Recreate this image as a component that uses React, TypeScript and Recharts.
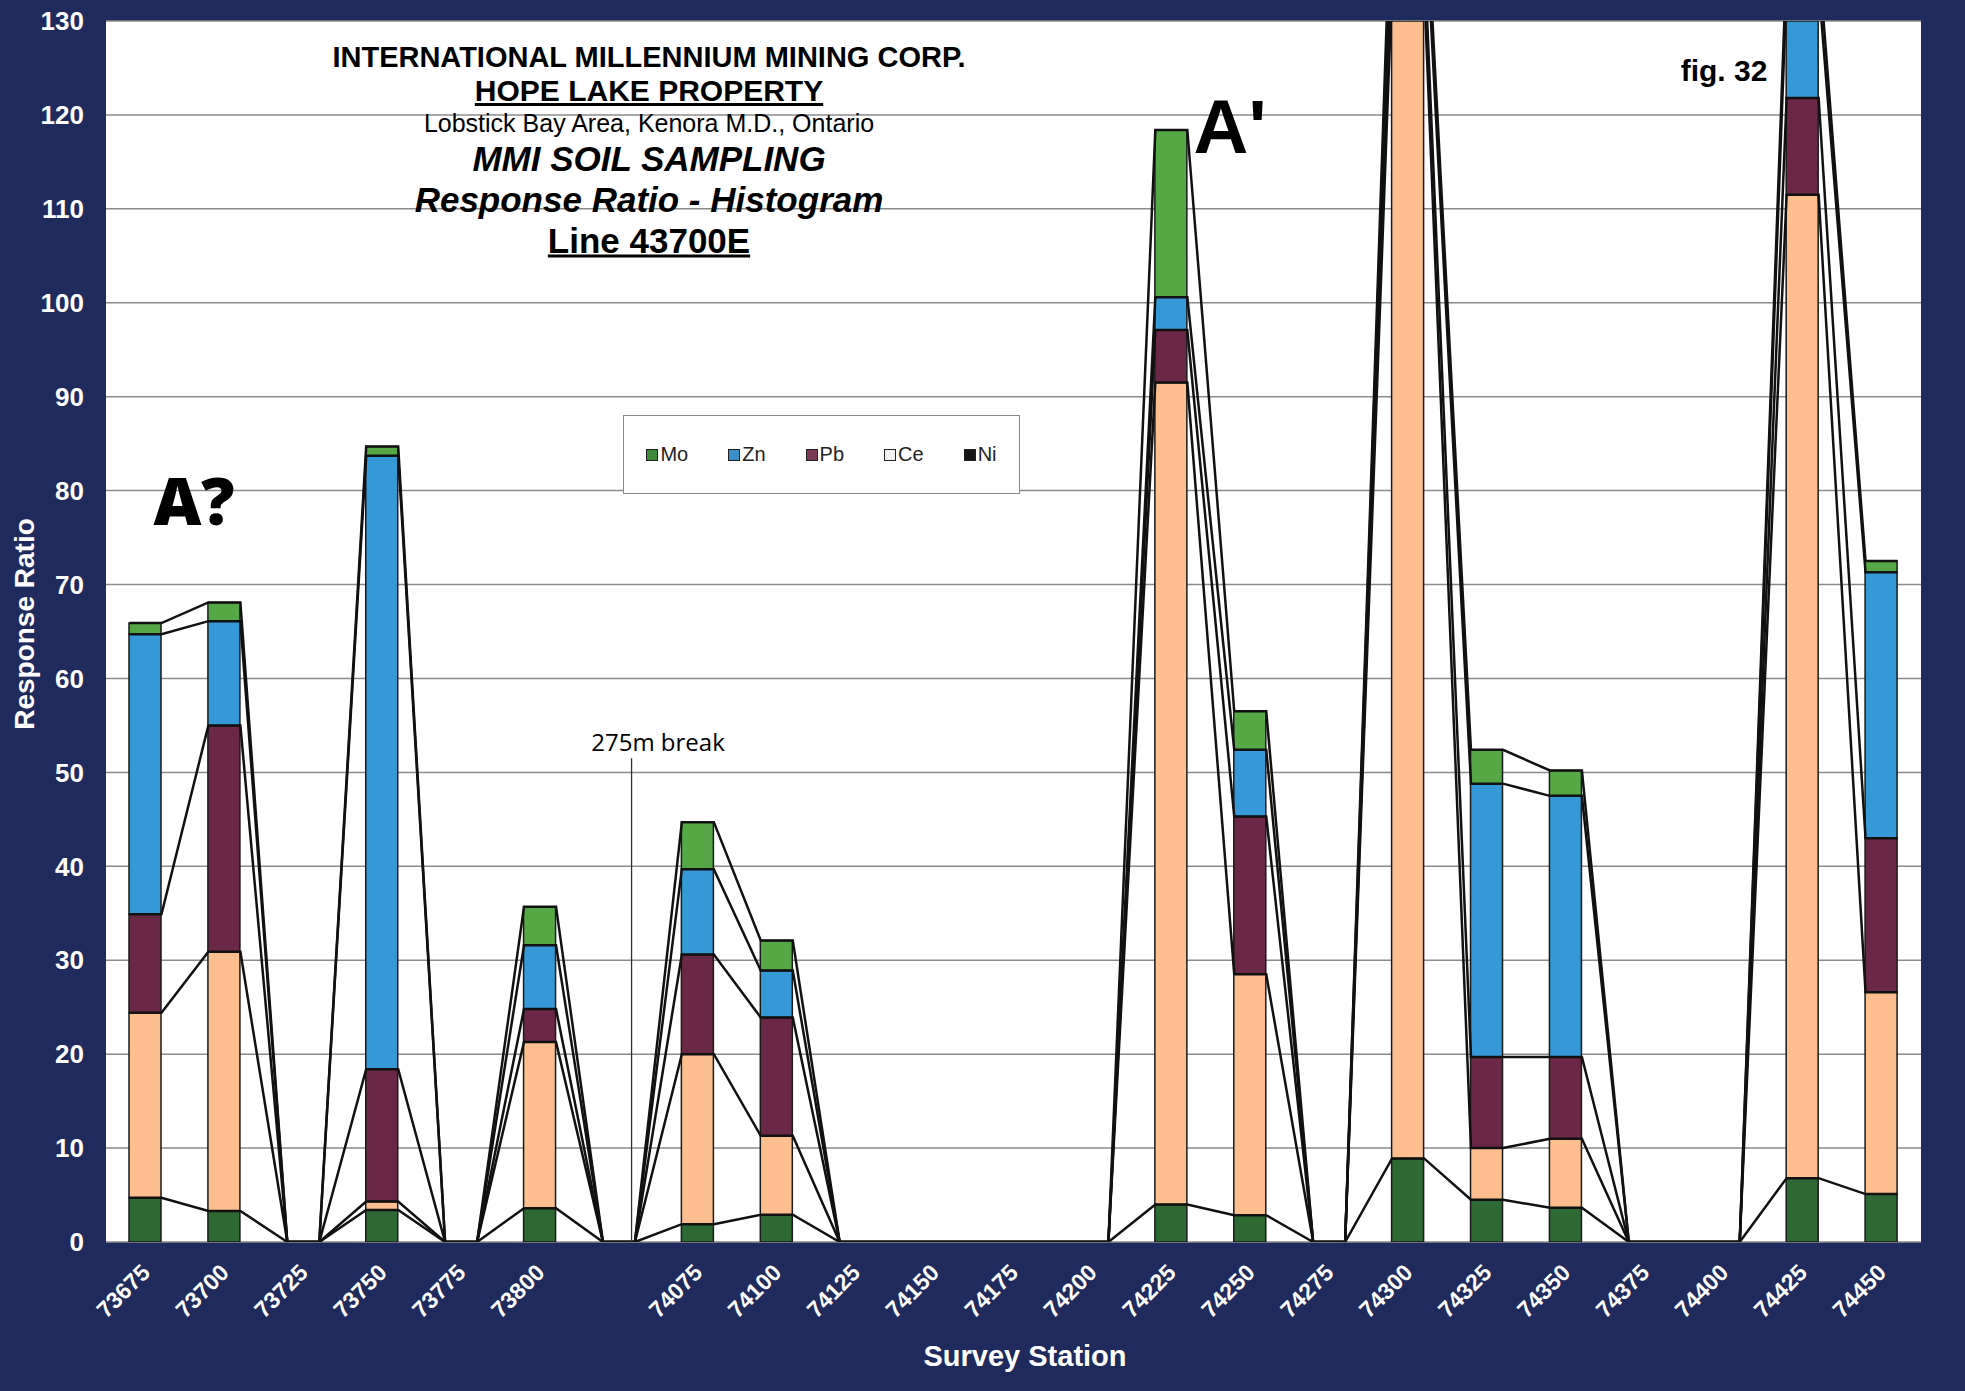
import React from "react";
import {
  Bar,
  CartesianGrid,
  ComposedChart,
  Legend,
  Line,
  ReferenceLine,
  XAxis,
  YAxis,
} from "recharts";

// survey stations (blank slot = 275m break)
const STATIONS = [
  "73675", "73700", "73725", "73750", "73775", "73800", "",
  "74075", "74100", "74125", "74150", "74175", "74200", "74225",
  "74250", "74275", "74300", "74325", "74350", "74375", "74400",
  "74425", "74450",
];

// response ratios per element, stacked bottom -> top
const NI = [4.7, 3.3, 0, 3.4, 0, 3.6, 0, 1.9, 2.9, 0, 0, 0, 0, 4.0, 2.85, 0, 8.9, 4.5, 3.65, 0, 0, 6.8, 5.1];
const CE = [19.7, 27.6, 0, 0.9, 0, 17.7, 0, 18.1, 8.4, 0, 0, 0, 0, 87.5, 25.65, 0, 125, 5.5, 7.35, 0, 0, 104.7, 21.5];
const PB = [10.5, 24.1, 0, 14.1, 0, 3.5, 0, 10.6, 12.6, 0, 0, 0, 0, 5.6, 16.8, 0, 4, 9.7, 8.7, 0, 0, 10.3, 16.4];
const ZN = [29.8, 11.1, 0, 65.3, 0, 6.8, 0, 9.1, 5.0, 0, 0, 0, 0, 3.5, 7.1, 0, 6, 29.1, 27.8, 0, 0, 12, 28.3];
const MO = [1.2, 2.0, 0, 1.0, 0, 4.1, 0, 5.0, 3.2, 0, 0, 0, 0, 17.8, 4.1, 0, 3, 3.6, 2.7, 0, 0, 3, 1.2];

const Y_TICKS = [0, 10, 20, 30, 40, 50, 60, 70, 80, 90, 100, 110, 120, 130];
const Y_MAX = 130;

const SERIES = [
  { key: "Ni", values: NI, fill: "#2e6933", swatch: "#151515" },
  { key: "Ce", values: CE, fill: "#fdbf8f", swatch: "#f2f2f2" },
  { key: "Pb", values: PB, fill: "#6a2846", swatch: "#7b3a55" },
  { key: "Zn", values: ZN, fill: "#3499d6", swatch: "#3a8fc8" },
  { key: "Mo", values: MO, fill: "#55a845", swatch: "#3f8a3a" },
];
const LEGEND_ORDER = ["Mo", "Zn", "Pb", "Ce", "Ni"];

const W = 1965;
const H = 1391;
const M = { top: 21, right: 44, left: 0, bottom: 0 };
const Y_AXIS_W = 106;
const X_AXIS_H = 149;
const BAR_W = 32;
const NAVY = "#1f2b5d";
const NARROW = '"Liberation Sans Narrow", "Liberation Sans", Arial, sans-serif';
const SANS = '"Liberation Sans", Arial, sans-serif';

const plotW = W - M.left - M.right - Y_AXIS_W;
const half = BAR_W / 2 / (plotW / STATIONS.length); // half bar width in x units
const xDomain = [-0.5, STATIONS.length - 0.5];

const rows = STATIONS.map((s, i) => {
  const r: Record<string, number | string> = { x: i, station: s };
  SERIES.forEach((sr) => (r[sr.key] = sr.values[i]));
  return r;
});

// Excel-style series lines: join cumulative tops of neighbouring bars
const seriesLines = SERIES.map((_, k) =>
  STATIONS.flatMap((_s, i) => {
    let cum = 0;
    for (let j = 0; j <= k; j++) cum += SERIES[j].values[i];
    return [
      { lx: i - half, y: cum },
      { lx: i + half, y: cum },
    ];
  })
);

const StationTick = ({ x, y, payload }: any) => {
  const tx = x + 6;
  const ty = y + 24;
  return (
    <text
      x={tx}
      y={ty}
      transform={`rotate(-45 ${tx} ${ty})`}
      textAnchor="end"
      fill="#fff"
      fontSize={23}
      fontWeight="bold"
      fontFamily={NARROW}
    >
      {STATIONS[payload.value]}
    </text>
  );
};

const LegendBox = () => (
  <div
    style={{
      width: "100%",
      height: "100%",
      boxSizing: "border-box",
      border: "1.5px solid #8a8a8a",
      background: "#fff",
      display: "flex",
      alignItems: "center",
      justifyContent: "center",
      gap: 40,
      fontFamily: SANS,
      fontSize: 20,
      color: "#222",
    }}
  >
    {LEGEND_ORDER.map((k) => {
      const s = SERIES.find((d) => d.key === k)!;
      return (
        <span key={k} style={{ display: "flex", alignItems: "center", gap: 2 }}>
          <span
            style={{
              width: 12,
              height: 12,
              background: s.swatch,
              border: "1.5px solid #222",
              boxSizing: "border-box",
              display: "inline-block",
            }}
          />
          {k}
        </span>
      );
    })}
  </div>
);

const abs = (left: number, top: number, extra: React.CSSProperties): React.CSSProperties => ({
  position: "absolute",
  left,
  top,
  transform: "translate(-50%, -50%)",
  whiteSpace: "nowrap",
  lineHeight: 1,
  color: "#000",
  fontFamily: SANS,
  ...extra,
});

export default function App() {
  return (
    <div style={{ position: "absolute", left: 0, top: 0, width: W, height: H, background: NAVY, overflow: "hidden" }}>
      <ComposedChart width={W} height={H} data={rows} margin={M}>
        <CartesianGrid fill="#fff" stroke="#8c8c8c" strokeWidth={1.5} vertical={false} />
        <XAxis
          dataKey="x"
          type="number"
          domain={xDomain}
          ticks={STATIONS.map((_, i) => i)}
          interval={0}
          height={X_AXIS_H}
          axisLine={false}
          tickLine={false}
          tick={<StationTick />}
        />
        <XAxis xAxisId="lines" dataKey="lx" type="number" domain={xDomain} hide />
        <YAxis
          domain={[0, Y_MAX]}
          ticks={Y_TICKS}
          allowDataOverflow
          width={Y_AXIS_W}
          axisLine={false}
          tickLine={false}
          tickMargin={16}
          tick={{ fill: "#fff", fontSize: 26, fontWeight: "bold", fontFamily: NARROW }}
        />
        {SERIES.map((s) => (
          <Bar
            key={s.key}
            dataKey={s.key}
            name={s.key}
            stackId="a"
            fill={s.fill}
            stroke="#1a1a1a"
            strokeWidth={1.5}
            barSize={BAR_W}
            isAnimationActive={false}
          />
        ))}
        {seriesLines.map((pts, k) => (
          <Line
            key={SERIES[k].key + "-line"}
            xAxisId="lines"
            data={pts}
            dataKey="y"
            type="linear"
            stroke="#111"
            strokeWidth={2.5}
            dot={false}
            activeDot={false}
            legendType="none"
            isAnimationActive={false}
          />
        ))}
        <ReferenceLine
          segment={[
            { x: 6.16, y: 0 },
            { x: 6.16, y: 51.5 },
          ]}
          stroke="#333"
          strokeWidth={1.3}
        />
        <Legend
          layout="horizontal"
          verticalAlign="middle"
          align="center"
          content={<LegendBox />}
          wrapperStyle={{ left: 623, top: 415, width: 397, height: 79 }}
        />
      </ComposedChart>

      <div style={abs(649, 57, { fontSize: 29, fontWeight: "bold" })}>INTERNATIONAL MILLENNIUM MINING CORP.</div>
      <div style={abs(649, 91, { fontSize: 30, fontWeight: "bold", textDecoration: "underline" })}>HOPE LAKE PROPERTY</div>
      <div style={abs(649, 123, { fontSize: 25 })}>Lobstick Bay Area, Kenora M.D., Ontario</div>
      <div style={abs(649, 158, { fontSize: 35, fontWeight: "bold", fontStyle: "italic" })}>MMI SOIL SAMPLING</div>
      <div style={abs(649, 199, { fontSize: 35, fontWeight: "bold", fontStyle: "italic" })}>Response Ratio - Histogram</div>
      <div style={abs(649, 240, { fontSize: 35, fontWeight: "bold", textDecoration: "underline" })}>Line 43700E</div>
      <div style={abs(1724, 71, { fontSize: 30, fontWeight: "bold", fontFamily: NARROW })}>fig. 32</div>
      <div style={abs(194, 499, { fontSize: 66, fontWeight: 800, fontFamily: '"Open Sans", sans-serif' })}>A?</div>
      <div style={abs(1230, 127, { fontSize: 76, fontWeight: "bold", fontFamily: NARROW })}>A'</div>
      <div style={abs(658, 742, { fontSize: 24, fontFamily: '"Open Sans", sans-serif' })}>275m break</div>

      <div style={abs(25, 624, { fontSize: 28, fontWeight: "bold", color: "#fff", transform: "translate(-50%, -50%) rotate(-90deg)" })}>
        Response Ratio
      </div>
      <div style={abs(1025, 1356, { fontSize: 29, fontWeight: "bold", color: "#fff" })}>Survey Station</div>
    </div>
  );
}
